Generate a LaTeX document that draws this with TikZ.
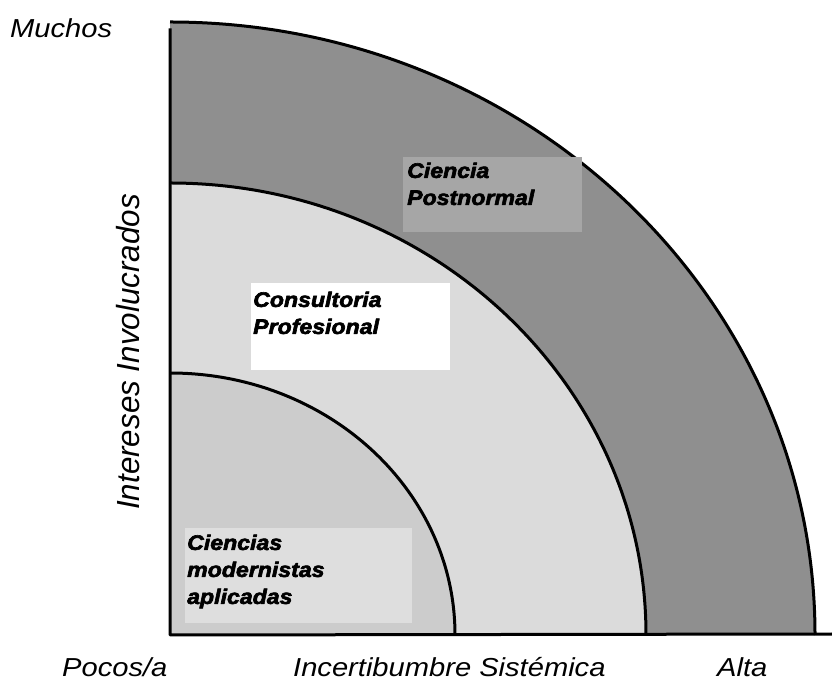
\documentclass[tikz,border=0pt]{standalone}
\usepackage{fontspec}
\setmainfont{Liberation Sans}
\newfontfamily\axisfont[FakeStretch=1.12]{Liberation Sans}
\newfontfamily\sidefont[FakeStretch=0.98]{Liberation Sans}
\newfontfamily\boxfont[FakeStretch=1.1, BoldItalicFeatures={FakeBold=3}]{Liberation Sans}
\definecolor{bandouter}{gray}{0.56}
\definecolor{bandmid}{gray}{0.86}
\definecolor{bandinner}{gray}{0.80}
\definecolor{pnfill}{gray}{0.65}
\definecolor{cmfill}{gray}{0.87}
\tikzset{
  arcline/.style={draw=black, line width=3pt},
  axisline/.style={draw=black, line width=3pt, line cap=rect},
  axislabel/.style={font=\axisfont\itshape\fontsize{26}{30}\selectfont, inner sep=0pt, anchor=base west},
  sidelabel/.style={font=\sidefont\itshape\fontsize{32}{36}\selectfont, inner sep=0pt, rotate=90},
  labelbox/.style={anchor=north west, inner sep=0pt, draw=none},
  boxtext/.style={font=\boxfont\bfseries\itshape\fontsize{21}{27}\selectfont, inner sep=0pt, anchor=north west, align=left}
}
\begin{document}
\begin{tikzpicture}[x=1pt, y=1pt, line join=round]
\useasboundingbox (0,0) rectangle (832,685);
\fill[white] (0,0) rectangle (832,685);
\coordinate (O) at (170,50);
\coordinate (ytop) at (170,655);
\coordinate (xend) at (832,51);
% bands
\fill[bandouter] (O) -- ++(645,0) arc[start angle=0, end angle=90, x radius=645, y radius=613] -- cycle;
\fill[bandmid] (O) -- ++(476,0) arc[start angle=0, end angle=90, x radius=476, y radius=452] -- cycle;
\fill[bandinner] (O) -- ++(285,0) arc[start angle=0, end angle=90, x radius=285, y radius=262] -- cycle;
% arcs
\draw[arcline] (815,50) arc[start angle=0, end angle=90, x radius=645, y radius=613];
\draw[arcline] (646,50) arc[start angle=0, end angle=90, x radius=476, y radius=452];
\draw[arcline] (455,50) arc[start angle=0, end angle=90, x radius=285, y radius=262];
% boxes
\node[labelbox, fill=pnfill, minimum width=179pt, minimum height=75pt] (pnb) at (403,528) {};
\node[boxtext] (pnt) at ([shift={(4,-5.5)}]pnb.north west) {Ciencia\\Postnormal};
\node[labelbox, fill=white, minimum width=199pt, minimum height=87pt] (cpb) at (251,402) {};
\node[boxtext] (cpt) at ([shift={(2,-8.5)}]cpb.north west) {Consultoria\\Profesional};
\node[labelbox, fill=cmfill, minimum width=227pt, minimum height=95pt] (cmb) at (185,157) {};
\node[boxtext] (cmt) at ([shift={(2,-6.5)}]cmb.north west) {Ciencias\\modernistas\\aplicadas};
% axes
\draw[axisline] (ytop) -- (O) -- (xend);
% axis labels
\node[axislabel] (muchos) at (10,647) {Muchos};
\node[axislabel] (pocos) at (62,9) {Pocos/a};
\node[axislabel] (incert) at (293,9) {Incertibumbre Sistémica};
\node[axislabel] (alta) at (717,9) {Alta};
\node[sidelabel] (intereses) at (128,333) {Intereses Involucrados};
\end{tikzpicture}
\end{document}
